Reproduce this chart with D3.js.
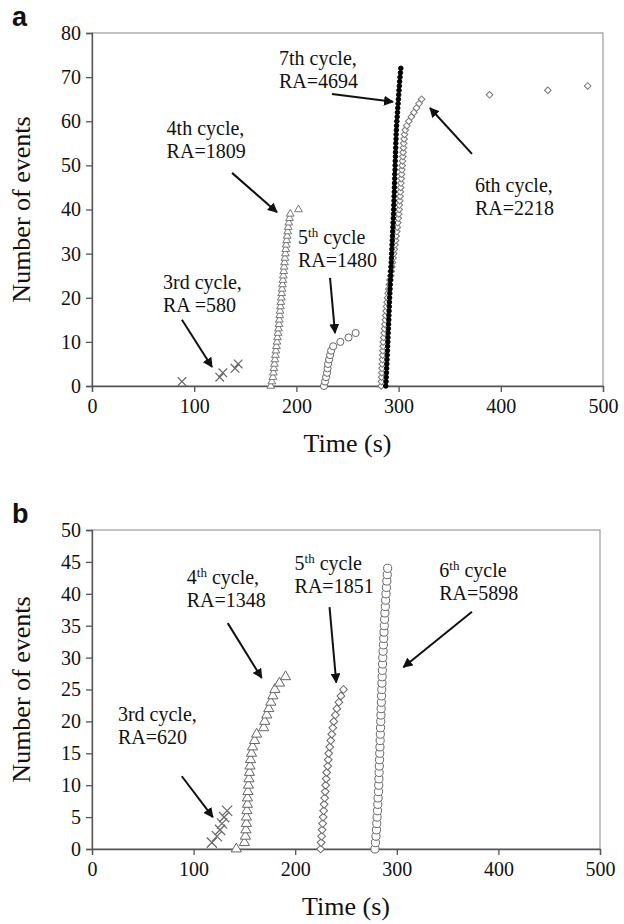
<!DOCTYPE html>
<html>
<head>
<meta charset="utf-8">
<title>Number of events vs time</title>
<script src="https://d3js.org/d3.v7.min.js"></script>
<style>
  body { margin: 0; background: #fff; }
  text { font-family: "Liberation Serif", "Times New Roman", serif; fill: #111; }
</style>
</head>
<body>
<svg id="chart" width="624" height="924"></svg>
<script>
// ---- data: time (s) of each recorded event, panel a ----
var a3Times = [88, 125, 128, 140, 143];                // 3rd cycle, events 1..5
var a4Times = [175, 176, 177, 177.5, 178, 178.5, 179, 179.5, 180, 180.5,
               181, 181.5, 182, 182.5, 183, 183.3, 183.7, 184, 184.4, 184.8,
               185.2, 185.6, 186, 186.4, 186.8, 187.2, 187.6, 188, 188.4, 188.8,
               189.2, 189.6, 190, 190.5, 191, 191.5, 192, 192.6, 193.3, 194, 202]; // events 0..40
var a5Times = [227, 228, 229, 230, 230.5, 231, 232, 233, 234, 236, 243, 251, 258]; // events 0..12
var a6Times = [283.0, 283.2, 283.4, 283.6, 283.8, 284.0, 284.2, 284.4, 284.6, 284.8,
               285.0, 285.4, 285.8, 286.2, 286.6, 287.0, 287.4, 287.8, 288.2, 288.7,
               289.2, 289.8, 290.4, 291.0, 291.6, 292.2, 292.8, 293.4, 294.0, 294.6,
               295.2, 295.8, 296.4, 297.0, 297.6, 298.2, 298.7, 299.2, 299.7, 300.1,
               300.5, 300.8, 301.1, 301.4, 301.7, 302.0, 302.3, 302.6, 302.9, 303.2,
               303.5, 303.8, 304.1, 304.4, 304.7, 305.0, 305.4, 305.8, 306.5, 308.0,
               310.0, 312.5, 315.0, 317.5, 320.0, 322.5, 389, 446, 485]; // events 0..68
var a7Times = [287.5, 287.7, 287.9, 288.1, 288.3, 288.5, 288.7, 288.9, 289.1, 289.3,
               289.5, 289.6, 289.8, 290.0, 290.2, 290.4, 290.5, 290.7, 290.9, 291.0,
               291.2, 291.4, 291.6, 291.8, 292.0, 292.2, 292.4, 292.6, 292.8, 293.0,
               293.2, 293.4, 293.6, 293.8, 294.0, 294.2, 294.4, 294.6, 294.8, 295.0,
               295.2, 295.3, 295.5, 295.6, 295.8, 295.9, 296.0, 296.2, 296.3, 296.5,
               296.6, 296.7, 296.9, 297.0, 297.2, 297.3, 297.5, 297.6, 297.8, 298.0,
               298.3, 298.6, 298.9, 299.2, 299.5, 299.8, 300.1, 300.4, 300.7, 301.0,
               301.4, 301.8, 302.2]; // events 0..72

// ---- panel b ----
var b3Times = [118, 123, 126, 128, 130, 133];          // events 1..6
var b4Times = [142, 150, 151, 151.5, 152, 152, 152.5, 153, 153, 153.5,
               154, 154.5, 155, 155.5, 156, 157, 158, 160, 162, 169,
               170, 172, 174, 176, 178, 180, 184.5, 190.5]; // events 0..27
var b5Times = [225, 225.5, 226, 226.5, 227, 227.5, 228, 228.5, 229, 229.5,
               230, 230.5, 231, 232, 232.5, 233, 234, 235, 236, 237,
               238, 239.5, 241, 243, 245, 247.5]; // events 0..25
var b6Times = [278.5, 279, 279.5, 280, 280.3, 280.6, 281, 281.3, 281.6, 282,
               282.2, 282.4, 282.6, 282.8, 283, 283.2, 283.4, 283.6, 283.8, 284,
               284.2, 284.4, 284.6, 284.8, 285, 285.2, 285.4, 285.6, 285.8, 286,
               286.2, 286.5, 286.8, 287.1, 287.4, 287.7, 288, 288.3, 288.7, 289,
               289.4, 289.8, 290.2, 290.6, 291]; // events 0..44

var xTicks = [0, 100, 200, 300, 400, 500];
var yTicksA = [0, 10, 20, 30, 40, 50, 60, 70, 80];
var yTicksB = [0, 5, 10, 15, 20, 25, 30, 35, 40, 45, 50];

// cumulative event number paired with each time
function events(times, first) {
    return times.map(function (t, i) { return { t: t, n: first + i }; });
}

var svg = d3.select("#chart");
svg.append("rect").attr("width", 624).attr("height", 924).attr("fill", "#fff");

function panel(opt) {
    var x = d3.scaleLinear().domain([0, 500]).range([opt.left, opt.right]);
    var y = d3.scaleLinear().domain([0, opt.ymax]).range([opt.bottom, opt.top]);
    var g = svg.append("g");

    // frame top / right
    g.append("rect")
        .attr("x", opt.left).attr("y", opt.top)
        .attr("width", opt.right - opt.left).attr("height", opt.bottom - opt.top)
        .attr("fill", "none").attr("stroke", "#999").attr("stroke-width", 1.2);

    var ax = g.append("g").attr("transform", "translate(0," + opt.bottom + ")")
        .call(d3.axisBottom(x).tickValues(xTicks).tickSize(6).tickPadding(7));
    var ay = g.append("g").attr("transform", "translate(" + opt.left + ",0)")
        .call(d3.axisLeft(y).tickValues(opt.yticks).tickSize(6).tickPadding(5));
    [ax, ay].forEach(function (a) {
        a.select(".domain").attr("stroke", "#555").attr("stroke-width", 1.3);
        a.selectAll(".tick line").attr("stroke", "#555").attr("stroke-width", 1.3);
        a.selectAll(".tick text")
            .attr("font-family", "Liberation Serif, serif")
            .attr("font-size", 20).attr("fill", "#111");
    });

    g.append("text")
        .attr("x", (opt.left + opt.right) / 2).attr("y", opt.bottom + 66)
        .attr("text-anchor", "middle").attr("font-size", 26)
        .text("Time (s)");
    g.append("text")
        .attr("transform", "translate(30," + ((opt.top + opt.bottom) / 2) + ") rotate(-90)")
        .attr("text-anchor", "middle").attr("font-size", 26)
        .text("Number of events");
    g.append("text")
        .attr("x", 12).attr("y", opt.top - 7)
        .style("font-family", "Liberation Sans, Arial, sans-serif")
        .attr("font-weight", "bold").attr("font-size", 27)
        .text(opt.letter);

    return { g: g, x: x, y: y };
}

var sym = {
    cross: d3.symbol().type(d3.symbolX),
    tri: d3.symbol().type(d3.symbolTriangle),
    diamond: d3.symbol().type(d3.symbolSquare),
    circle: d3.symbol().type(d3.symbolCircle)
};

function scatter(p, data, kind, size, style) {
    var gen = sym[kind].size(size);
    p.g.append("g").selectAll("path").data(data).enter().append("path")
        .attr("d", gen)
        .attr("transform", function (d) {
            return "translate(" + p.x(d.t) + "," + p.y(d.n) + ")" + (kind === "diamond" ? " rotate(45)" : "");
        })
        .attr("fill", style.fill || "#fff")
        .attr("stroke", style.stroke)
        .attr("stroke-width", style.width || 1);
}

svg.append("defs").append("marker")
    .attr("id", "head").attr("viewBox", "0 0 10 10")
    .attr("refX", 9).attr("refY", 5)
    .attr("markerWidth", 5).attr("markerHeight", 5)
    .attr("orient", "auto")
    .append("path").attr("d", "M0,0 L10,5 L0,10 z").attr("fill", "#111");

// lines are plain strings, or [before, superscript, after]
function note(p, lines, at, arrow) {
    var t = p.g.append("text").attr("font-size", 20);
    lines.forEach(function (ln, i) {
        var tl = t.append("tspan").attr("x", p.x(at[0])).attr("y", p.y(at[1]) + i * 23);
        if (Array.isArray(ln)) {
            tl.append("tspan").text(ln[0]);
            tl.append("tspan").attr("font-size", 13).attr("dy", -7).text(ln[1]);
            tl.append("tspan").attr("dy", 7).text(ln[2]);
        } else {
            tl.text(ln);
        }
    });
    p.g.append("line")
        .attr("x1", p.x(arrow[0])).attr("y1", p.y(arrow[1]))
        .attr("x2", p.x(arrow[2])).attr("y2", p.y(arrow[3]))
        .attr("stroke", "#111").attr("stroke-width", 2)
        .attr("marker-end", "url(#head)");
}

// ---- panel a ----
var pa = panel({ left: 92, right: 603, top: 33, bottom: 386, ymax: 80, yticks: yTicksA, letter: "a" });
scatter(pa, events(a3Times, 1), "cross", 50, { stroke: "#666", width: 1.2, fill: "none" });
scatter(pa, events(a4Times, 0), "tri", 26, { stroke: "#777" });
scatter(pa, events(a5Times, 0), "circle", 40, { stroke: "#666" });
scatter(pa, events(a6Times, 0), "diamond", 22, { stroke: "#777" });
scatter(pa, events(a7Times, 0), "circle", 16, { stroke: "#000", fill: "#000" });

note(pa, ["4th cycle,", "RA=1809"], [73, 56.9], [137, 48.3, 181, 39.4]);
note(pa, ["3rd cycle,", "RA =580"], [69.5, 22], [88, 15, 117.4, 4.3]);
note(pa, [["5", "th", " cycle"], "RA=1480"], [201.6, 32.2], [232.9, 24.5, 237.8, 12]);
note(pa, ["7th cycle,", "RA=4694"], [183, 72.7], [234.8, 66.2, 294.5, 64.4]);
note(pa, ["6th cycle,", "RA=2218"], [374.8, 44], [371.8, 52.6, 330.7, 63]);

// ---- panel b ----
var pb = panel({ left: 92, right: 600, top: 530, bottom: 849, ymax: 50, yticks: yTicksB, letter: "b" });
scatter(pb, events(b3Times, 1), "cross", 70, { stroke: "#666", width: 1.2, fill: "none" });
scatter(pb, events(b4Times, 0), "tri", 45, { stroke: "#666" });
scatter(pb, events(b5Times, 0), "diamond", 30, { stroke: "#666" });
scatter(pb, events(b6Times, 0), "circle", 52, { stroke: "#666" });

note(pb, [["4", "th", " cycle,"], "RA=1348"], [93.3, 41.5], [133.6, 35.4, 167, 26.8]);
note(pb, ["3rd cycle,", "RA=620"], [25.5, 20.1], [88.4, 11.4, 118.9, 5]);
note(pb, [["5", "th", " cycle"], "RA=1851"], [199.4, 43.7], [233.8, 37.9, 240.4, 26.1]);
note(pb, [["6", "th", " cycle"], "RA=5898"], [341.8, 42.6], [374, 37.2, 306.5, 28.5]);
</script>
</body>
</html>
